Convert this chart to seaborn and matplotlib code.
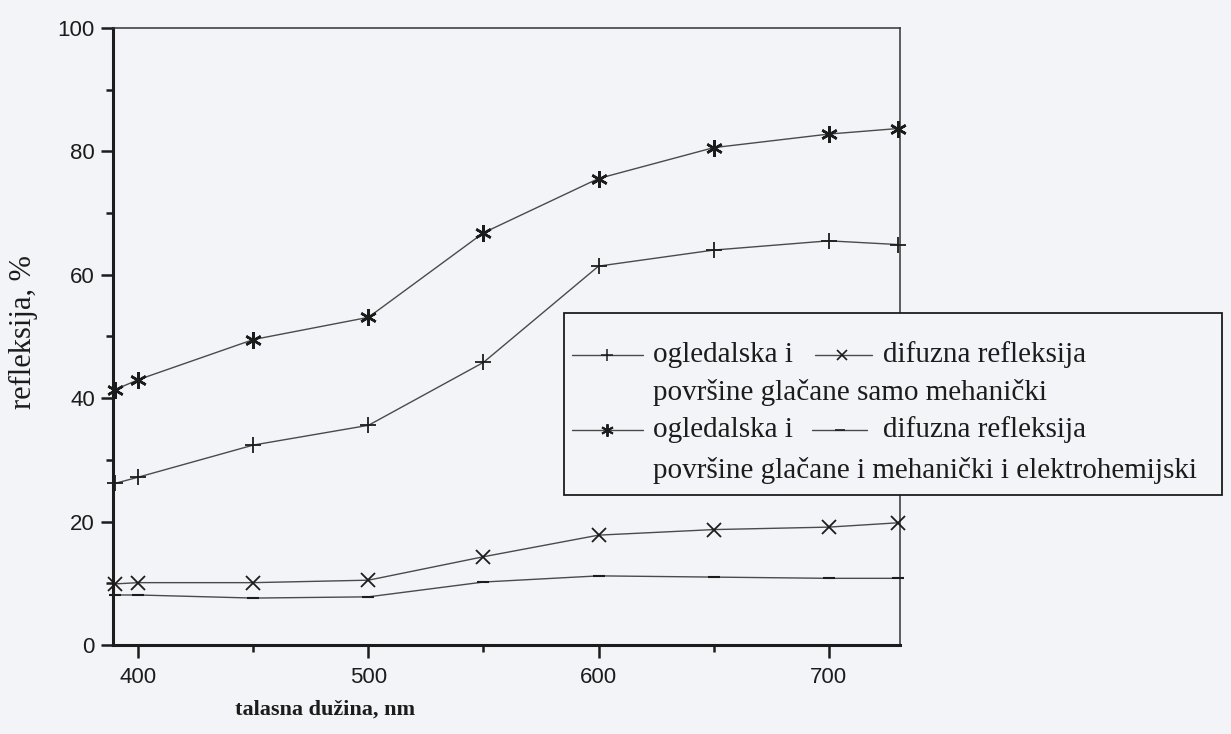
import matplotlib
matplotlib.use("Agg")
import matplotlib.pyplot as plt
from matplotlib.lines import Line2D
from matplotlib.patches import Rectangle
from matplotlib.ticker import MultipleLocator
import seaborn as sns

# wavelength, nm
wavelength = [390, 400, 450, 500, 550, 600, 650, 700, 730]

# reflection, %
spec_mech = [26.2, 27.2, 32.4, 35.6, 45.8, 61.4, 64.0, 65.5, 64.9]
diff_mech = [9.9, 10.1, 10.1, 10.5, 14.3, 17.8, 18.7, 19.1, 19.8]
spec_echem = [41.4, 43.0, 49.5, 53.1, 66.8, 75.6, 80.6, 82.8, 83.7]
diff_echem = [8.1, 8.1, 7.6, 7.8, 10.2, 11.2, 11.0, 10.8, 10.8]

BG = "#f3f4f8"
INK = "#1c1c1c"
LINE = "#4a4a4a"

sns.set_style("ticks")
plt.rcParams["font.family"] = ["Liberation Sans", "DejaVu Sans"]

fig = plt.figure(figsize=(12.31, 7.34), dpi=100, facecolor=BG)
ax = fig.add_axes([0.0918, 0.1213, 0.6393, 0.8406], facecolor=BG)

series = [
    (spec_mech, "+", 11, 1.3),
    (diff_mech, "x", 10, 1.3),
    (spec_echem, (6, 2, 0), 12, 1.8),
    (diff_echem, "_", 8, 1.5),
]
for values, mk, ms, mew in series:
    sns.lineplot(x=wavelength, y=values, ax=ax, color=LINE, linewidth=1.0,
                 marker=mk, markersize=ms, markeredgewidth=mew,
                 markeredgecolor=INK, markerfacecolor=INK, clip_on=False,
                 zorder=3)

ax.set_xlim(389, 731)
ax.set_ylim(0, 100)
ax.xaxis.set_major_locator(MultipleLocator(100))
ax.xaxis.set_minor_locator(MultipleLocator(50))
ax.yaxis.set_major_locator(MultipleLocator(20))
ax.yaxis.set_minor_locator(MultipleLocator(10))

for side in ["left", "bottom"]:
    ax.spines[side].set_linewidth(2.2)
    ax.spines[side].set_color(INK)
for side in ["top", "right"]:
    ax.spines[side].set_visible(True)
    ax.spines[side].set_linewidth(1.1)
    ax.spines[side].set_color("#333333")

ax.tick_params(which="major", direction="out", length=9, width=1.8,
               color=INK, labelsize=16, labelcolor=INK)
ax.tick_params(axis="x", which="major", pad=7)
ax.tick_params(axis="y", which="major", pad=4)
ax.tick_params(which="minor", direction="out", length=5, width=1.8, color=INK)

ax.set_xlabel("talasna dužina, nm", family="Liberation Serif", fontsize=16,
              fontweight="bold", color=INK)
ax.xaxis.set_label_coords(0.27, -0.088)
ax.set_ylabel("refleksija, %", family="Liberation Serif", fontsize=22,
              color=INK)
ax.yaxis.set_label_coords(-0.095, 0.507)

# legend box, laid out by hand like the original
fig.add_artist(Rectangle((0.4582, 0.3256), 0.5345, 0.2480, transform=fig.transFigure,
                         facecolor=BG, edgecolor=INK, linewidth=1.3, zorder=10))

W, H = 1231.0, 734.0


def handle(x0, x1, xm, yc, mk, ms, mew):
    y = 1 - yc / H
    fig.add_artist(Line2D([x0 / W, x1 / W], [y, y], transform=fig.transFigure,
                          color=LINE, linewidth=1.0, zorder=11))
    fig.add_artist(Line2D([xm / W], [y], transform=fig.transFigure, marker=mk,
                          markersize=ms, markeredgewidth=mew, color=INK,
                          linestyle="none", zorder=12))


def label(x, yc, s):
    fig.text(x / W, 1 - yc / H, s, family="Liberation Serif", fontsize=21,
             color=INK, va="center", ha="left", zorder=12)


handle(572, 643, 607, 355, "+", 9, 1.1)
label(653, 355, "ogledalska i")
handle(815, 872, 842, 355, "x", 7, 1.2)
label(883, 355, "difuzna refleksija")
label(653, 393, "površine glačane samo mehanički")
handle(572, 643, 607, 430, (6, 2, 0), 9, 1.4)
label(653, 430, "ogledalska i")
handle(812, 867, 840, 430, "_", 7, 1.2)
label(883, 430, "difuzna refleksija")
label(653, 470, "površine glačane i mehanički i elektrohemijski")

fig.savefig("out.png", dpi=100, facecolor=BG)
